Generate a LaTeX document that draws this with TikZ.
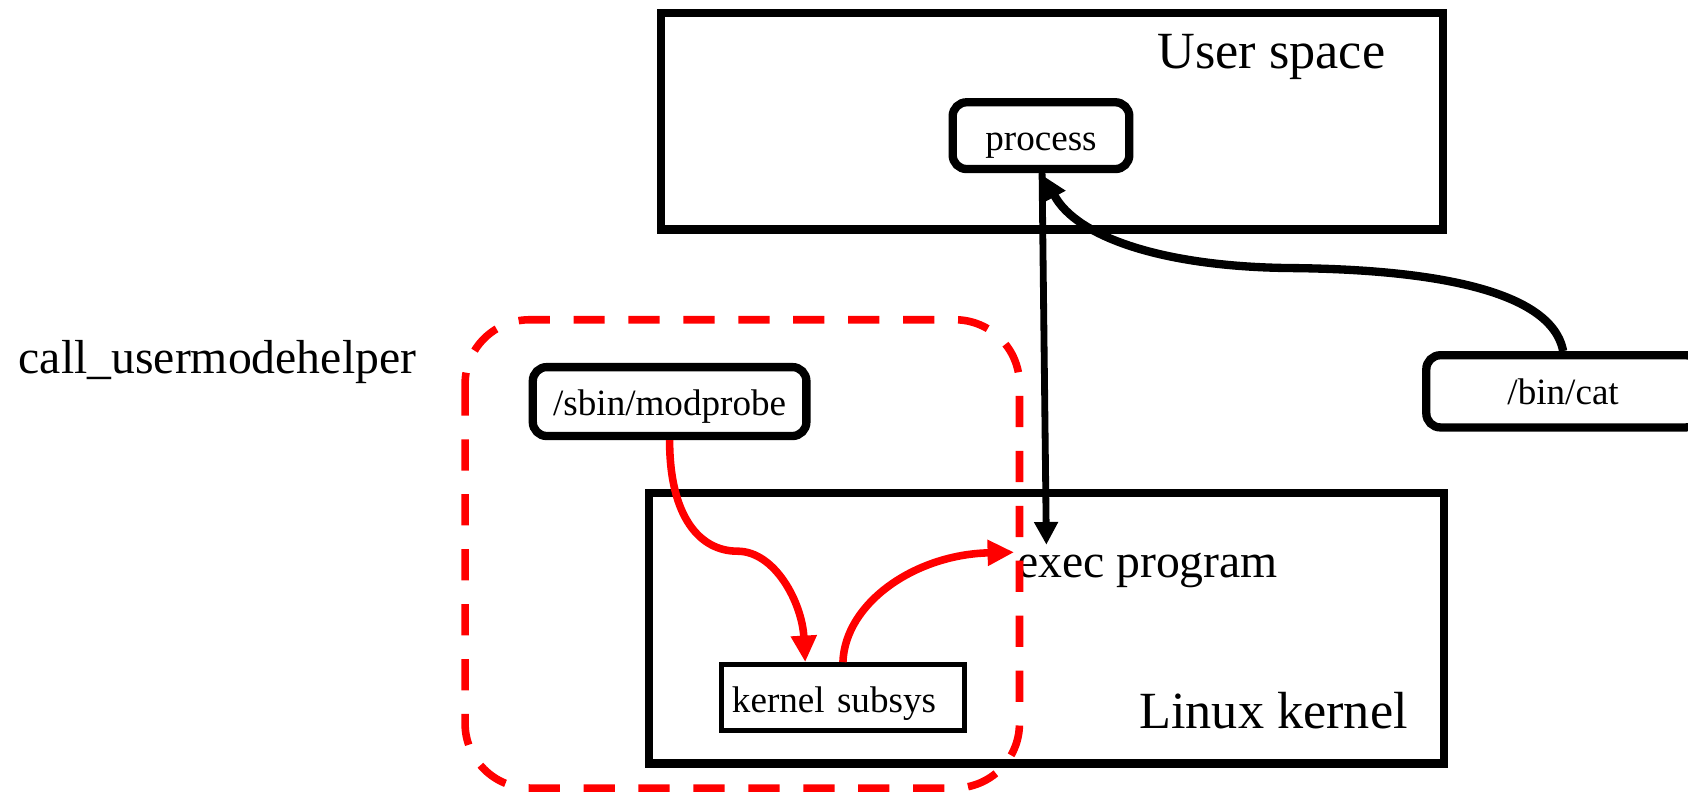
\documentclass[tikz,border=0pt]{standalone}
\usepackage{fontspec}
\setmainfont{Liberation Serif}
\usetikzlibrary{arrows.meta}
\tikzset{
  bigbox/.style={draw, line width=2.2pt, minimum width=#1, inner sep=0pt},
  rbox/.style={draw, line width=2.2pt, rounded corners=0.13cm, inner sep=0pt},
  smallfont/.style={font=\fontsize{9.8}{12}\selectfont},
  midfont/.style={font=\fontsize{12.6}{15}\selectfont},
  largefont/.style={font=\fontsize{13.8}{16}\selectfont},
  blackarrow/.style={line width=#1, -{Triangle[length=6pt,width=6pt]}},
  blackarrow/.default=1.6pt,
  redarrow/.style={draw=red, line width=2pt, -{Triangle[length=7pt,width=6.5pt]}},
  helperzone/.style={draw=red, line width=2pt, rounded corners=0.6cm, dash pattern=on 0.29cm off 0.22cm}
}
\begin{document}
\begin{tikzpicture}[x=0.01cm, y=-0.01cm]
\useasboundingbox (0,0) rectangle (1568,735);
% main boxes
\node[bigbox=7.26cm, minimum height=2.01cm] (user) at (977,112.5) {};
\node[bigbox=7.38cm, minimum height=2.51cm] (kernel) at (972,583.5) {};
\node[largefont] (usertxt) at (1181,53) {User space};
\node[largefont] (kerneltxt) at (1183,660) {Linux kernel};
% small boxes
\node[rbox, smallfont, minimum width=1.64cm, minimum height=0.62cm, text height=8pt, text depth=0pt] (proc) at (967,126) {process};
\node[rbox, smallfont, minimum width=2.54cm, minimum height=0.64cm, text height=7.5pt, text depth=0pt] (mod) at (622,373) {/sbin/modprobe};
\node[rbox, smallfont, minimum width=2.54cm, minimum height=0.67cm] (bincat) at (1452,363.5) {/bin/cat};
\node[draw, line width=1.4pt, smallfont, inner xsep=0.1cm, inner ysep=0pt, text width=2.06cm, minimum height=0.61cm, text height=8.1pt, text depth=0pt, align=left] (ks) at (783,648) {kernel subsys};
% labels
\node[midfont, anchor=west, inner sep=0pt] (exec) at (944,530) {exec program};
\node[midfont] (cuh) at (202,336) {call\_usermodehelper};
% red dashed zone
\draw[helperzone] (432,297) rectangle (947,732);
% connectors
\coordinate (execin) at (972,506);
\coordinate (redin) at (942,513);
\draw[blackarrow=1.8pt] ([xshift=0.01cm]proc.south) -- (execin);
\draw[blackarrow=2.2pt] (bincat.north) .. controls (1440,262) and (1300,250) .. (1200,249) .. controls (1080,248) and (1000,220) .. ([xshift=0.03cm,yshift=-0.03cm]proc.south);
\draw[redarrow] (mod.south) .. controls (622,480) and (650,512) .. (685,512) .. controls (720,512) and (745,560) .. ([xshift=-0.35cm]ks.north);
\draw[redarrow] (ks.north) .. controls (785,560) and (850,515) .. (redin);
\end{tikzpicture}
\end{document}
